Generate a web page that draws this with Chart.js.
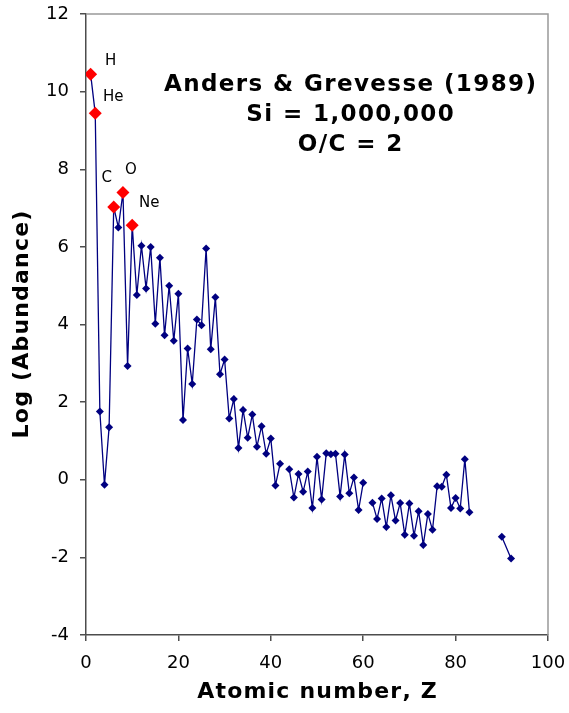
<!DOCTYPE html>
<html>
<head>
<meta charset="utf-8">
<script src="https://cdn.jsdelivr.net/npm/chart.js@4.4.1/dist/chart.umd.min.js"></script>
<style>
  html, body { margin: 0; padding: 0; background: #fff; }
  #wrap { width: 569px; height: 713px; }
</style>
</head>
<body>
<div id="wrap"><canvas id="myChart" width="569" height="713"></canvas></div>
<script>
// Anders & Grevesse (1989), log abundance with Si = 10^6
// null = no value (line is broken there)
const atomicNumbers = [
  1, 2, 3, 4, 5, 6, 7, 8, 9, 10,
  11, 12, 13, 14, 15, 16, 17, 18, 19, 20,
  21, 22, 23, 24, 25, 26, 27, 28, 29, 30,
  31, 32, 33, 34, 35, 36, 37, 38, 39, 40,
  41, 42, 43, 44, 45, 46, 47, 48, 49, 50,
  51, 52, 53, 54, 55, 56, 57, 58, 59, 60,
  61, 62, 63, 64, 65, 66, 67, 68, 69, 70,
  71, 72, 73, 74, 75, 76, 77, 78, 79, 80,
  81, 82, 83, 84, 90, 92
];
const logAbundance = [
  10.45, 9.44, 1.76, -0.13, 1.35, 7.03, 6.50, 7.40, 2.93, 6.56,
  4.76, 6.03, 4.93, 6.00, 4.02, 5.72, 3.72, 5.00, 3.58, 4.79,
  1.54, 3.38, 2.47, 4.13, 3.98, 5.96, 3.36, 4.70, 2.72, 3.10,
  1.58, 2.08, 0.82, 1.80, 1.08, 1.68, 0.85, 1.38, 0.67, 1.06,
  -0.15, 0.41, null, 0.27, -0.46, 0.15, -0.31, 0.21, -0.73, 0.59,
  -0.51, 0.68, 0.66, 0.67, -0.43, 0.65, -0.35, 0.06, -0.78, -0.08,
  null, -0.59, -1.01, -0.48, -1.22, -0.40, -1.05, -0.60, -1.42, -0.61,
  -1.44, -0.81, -1.68, -0.88, -1.29, -0.17, -0.18, 0.13, -0.73, -0.47,
  -0.74, 0.53, -0.84, null, -1.47, -2.03
];
// highlighted light elements
const highlightNames = ['H', 'He', 'C', 'O', 'Ne'];
const highlightZ = [1, 2, 6, 8, 10];
const xTicks = [0, 20, 40, 60, 80, 100];
const yTicks = [-4, -2, 0, 2, 4, 6, 8, 10, 12];
const titleLines = ['Anders & Grevesse (1989)', 'Si = 1,000,000', 'O/C = 2'];
const xTitle = 'Atomic number, Z';
const yTitle = 'Log (Abundance)';

const mainPoints = atomicNumbers.map((z, i) => ({ x: z, y: logAbundance[i] }));
const redPoints = highlightZ.map(z => ({ x: z, y: logAbundance[atomicNumbers.indexOf(z)] }));

const FONT = '"DejaVu Sans", Verdana, sans-serif';
const AXIS_DARK = '#4d4d4d';

// centred text with a little extra tracking (the original font is wider)
function spacedText(ctx, text, cx, y, gap) {
  const chars = [...text];
  const widths = chars.map(c => ctx.measureText(c).width);
  const total = widths.reduce((s, w) => s + w, 0) + gap * (chars.length - 1);
  let x = cx - total / 2;
  ctx.textAlign = 'left';
  chars.forEach((c, i) => {
    ctx.fillText(c, x, y);
    x += widths[i] + gap;
  });
}

// frame on top/right, element labels, axis titles and the title text
const extras = {
  id: 'extras',
  afterDraw(chart) {
    const { ctx, chartArea: a, scales } = chart;
    ctx.save();
    ctx.strokeStyle = '#999999';
    ctx.lineWidth = 1.5;
    ctx.beginPath();
    ctx.moveTo(a.left, a.top);
    ctx.lineTo(a.right, a.top);
    ctx.lineTo(a.right, a.bottom);
    ctx.stroke();

    const offsets = { H: [20, -13], He: [18, -16], C: [-7, -29], O: [8, -22], Ne: [17, -22] };
    ctx.fillStyle = '#000';
    ctx.font = '15px ' + FONT;
    ctx.textAlign = 'center';
    ctx.textBaseline = 'middle';
    redPoints.forEach((p, i) => {
      const name = highlightNames[i];
      const px = scales.x.getPixelForValue(p.x) + offsets[name][0];
      const py = scales.y.getPixelForValue(p.y) + offsets[name][1];
      ctx.fillText(name, px, py);
    });

    ctx.font = 'bold 23px ' + FONT;
    ctx.textBaseline = 'alphabetic';
    titleLines.forEach((t, i) => spacedText(ctx, t, 350, 91 + i * 30, 1.4));

    ctx.font = 'bold 22px ' + FONT;
    ctx.textBaseline = 'middle';
    spacedText(ctx, xTitle, (a.left + a.right) / 2, 692, 1.2);
    ctx.translate(22, (a.top + a.bottom) / 2);
    ctx.rotate(-Math.PI / 2);
    spacedText(ctx, yTitle, 0, 0, 1.2);
    ctx.restore();
  }
};

let ctx = document.getElementById('myChart').getContext('2d');
let myChart = new Chart(ctx, {
  type: 'scatter',
  data: {
    datasets: [{
      label: 'highlight',
      data: redPoints,
      pointStyle: 'rectRot',
      pointRadius: 6.5,
      backgroundColor: '#ff0000',
      borderColor: '#ff0000',
      borderWidth: 0,
      showLine: false,
      order: 0
    }, {
      label: 'abundance',
      data: mainPoints,
      showLine: true,
      spanGaps: false,
      borderColor: '#000080',
      borderWidth: 1.3,
      pointStyle: 'rectRot',
      pointRadius: 4,
      pointBackgroundColor: '#000080',
      pointBorderColor: '#000080',
      pointBorderWidth: 0,
      order: 1
    }]
  },
  options: {
    responsive: false,
    animation: false,
    events: [],
    layout: { padding: { top: 14, right: 21, left: 0, bottom: 0 } },
    plugins: {
      legend: { display: false },
      tooltip: { enabled: false }
    },
    scales: {
      x: {
        type: 'linear',
        min: 0,
        max: 100,
        afterBuildTicks: s => { s.ticks = xTicks.map(v => ({ value: v })); },
        // fixed size, and no extra room for the overhanging end labels
        afterFit: s => { s.height = 78; s.paddingLeft = 0; s.paddingRight = 0; },
        border: { color: AXIS_DARK, width: 1.5 },
        grid: { drawOnChartArea: false, tickLength: 6, color: AXIS_DARK, lineWidth: 1.5 },
        ticks: { color: '#000', font: { family: FONT, size: 18 }, padding: 12 }
      },
      y: {
        type: 'linear',
        min: -4,
        max: 12,
        afterBuildTicks: s => { s.ticks = yTicks.map(v => ({ value: v })); },
        afterFit: s => { s.width = 86; s.paddingTop = 0; s.paddingBottom = 0; },
        border: { color: AXIS_DARK, width: 1.5 },
        grid: { drawOnChartArea: false, tickLength: 6, color: AXIS_DARK, lineWidth: 1.5 },
        ticks: { color: '#000', font: { family: FONT, size: 18 }, padding: 11 }
      }
    }
  },
  plugins: [extras]
});
</script>
</body>
</html>
